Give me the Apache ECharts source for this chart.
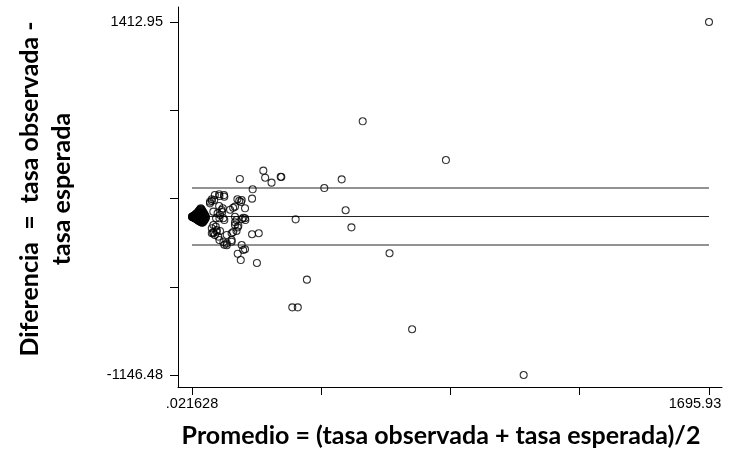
<!DOCTYPE html>
<html>
<head>
<meta charset="utf-8">
<script src="https://cdn.jsdelivr.net/npm/echarts@6/dist/echarts.min.js"></script>
<style>html,body{margin:0;padding:0;background:#fff;}#c{width:744px;height:453px;}</style>
</head>
<body>
<div id="c"></div>
<script>
// Mean of the two rates (x) and their difference (y)
const meanRate = [
  1695.93, 560, 833, 293, 491, 434, 504, 340, 523, 648, 377, 329, 347, 722, 1088,
  157, 234, 240, 261, 291, 199, 197,
  106, 89, 75, 65, 59, 90, 105, 73, 65, 59,
  149, 155, 161, 163, 174, 141, 125, 135, 99, 97, 101, 89,
  84, 92, 70, 79, 90, 103, 106, 168, 164, 175, 141, 146, 174,
  150, 141, 152, 141, 146, 197, 219, 135, 114, 130,
  81, 70, 65, 70, 78, 65, 92, 81, 75, 86, 70,
  90, 106, 114, 103, 114, 130, 130, 163, 174, 168, 150, 160, 213,
  0.02, 0.5, 1.2, 2, 2.8, 3.5, 4.5, 5.2, 6, 7, 8, 9, 10, 11, 12, 13, 14, 15, 16, 17, 18, 19, 20,
  21, 22, 23, 24, 25, 26, 27, 28, 29, 30, 31, 32, 33, 34, 35, 36, 37, 38, 39, 40, 41, 42, 43, 44, 45, 46,
  6, 10, 14, 18, 22, 26, 30, 34, 38, 20, 25, 30, 35, 15, 12, 8, 4, 28, 32, 24, 16
];
const diffRate = [
  1412.95, 693, 412, 289, 272, 209, 48, -18, -76, -264, -455, -656, -656, -815, -1146.48,
  275, 335, 284, 248, 291, 200, 132,
  146, 164, 159, 128, 110, 151, 158, 122, 115, 98,
  128, 117, 108, 122, 62, 74, 52, 66, 35, 50, 62, 79,
  26, 14, 38, -10, -10, -10, -23, -6, -16, -23, 1, -23, -10,
  -76, -39, -64, -59, -102, -126, -119, -110, -131, -119,
  -95, -112, -119, -59, -71, -82, -102, -107, -131, -143, -119,
  -168, -202, -206, -184, -192, -180, -168, -204, -235, -240, -267, -313, -334,
  0, 0.8, -1, 2.5, -2, 4, -3.5, 7, -6, 9, -8, 12, -10, 16, -13, 20, -15, 24, -18, 28, -22, 33, -25,
  38, -28, 44, -31, 50, -34, 56, -36, 62, -38, 55, -40, 48, -42, 40, -38, 33, -33, 26, -27, 18, -20, 10, -12, 3, -5,
  2, 4, -3, 8, 5, 12, 2, 15, -6, 20, -12, 30, -20, 10, -5, 3, -1, -18, 22, 28, -8
];
// Mean difference and limits of agreement
const meanDiff = 3;
const upperLimit = 209;
const lowerLimit = -204;
const lineStart = 0.021628;
const lineEnd = 1695.93;

// Axis ticks and labels
const xTickValues = [0.021628, 423.998, 847.975, 1271.953, 1695.93];
const xTickLabels = ['.021628', '', '', '', '1695.93'];
const yTickValues = [-1146.48, -506.6375, 133.235, 773.1075, 1412.95];
const yTickLabels = ['-1146.48', '', '', '', '1412.95'];

const xLabelValues = xTickValues.filter((v, i) => xTickLabels[i] !== '');
const yLabelValues = yTickValues.filter((v, i) => yTickLabels[i] !== '');

function lookup(vals, labels, v) {
  let best = 0;
  for (let i = 1; i < vals.length; i++) if (Math.abs(vals[i] - v) < Math.abs(vals[best] - v)) best = i;
  return labels[best];
}

const points = meanRate.map((x, i) => [x, diffRate[i]]);
const hline = (y) => ({
  type: 'line',
  data: [[lineStart, y], [lineEnd, y]],
  symbol: 'none',
  silent: true,
  lineStyle: { color: '#262626', width: 1.1 },
  z: 1
});

const tickFont = 'Liberation Sans, Arial, sans-serif';
const chart = echarts.init(document.getElementById('c'), null, { renderer: 'canvas' });
chart.setOption({
  animation: false,
  backgroundColor: '#ffffff',
  grid: { left: 178, right: 22, top: 7, bottom: 66, containLabel: false, outerBoundsMode: 'none' },
  xAxis: {
    type: 'value',
    min: -45.9,
    max: 1738.6,
    splitLine: { show: false },
    axisLine: { show: true, onZero: false, lineStyle: { color: '#000', width: 1 } },
    axisTick: { show: true, length: 8, customValues: xTickValues, lineStyle: { color: '#000' } },
    axisLabel: {
      customValues: xLabelValues,
      margin: 9,
      color: '#000',
      fontFamily: tickFont,
      fontSize: 14.5,
      formatter: (v) => {
        const t = lookup(xTickValues, xTickLabels, v);
        return v > 1000 ? '{mx|' + t + '}' : t;
      },
      rich: { mx: { padding: [0, 28, 0, 0], fontSize: 14.5, fontFamily: tickFont, color: '#000' } }
    },
    name: 'Promedio = (tasa observada + tasa esperada)/2',
    nameLocation: 'middle',
    nameGap: 36,
    nameTextStyle: { fontFamily: 'Lato', fontWeight: 'bold', fontSize: 25, color: '#000', padding: [0, 18, 0, 0] }
  },
  yAxis: {
    type: 'value',
    min: -1233.5,
    max: 1521.7,
    splitLine: { show: false },
    axisLine: { show: true, onZero: false, lineStyle: { color: '#000', width: 1 } },
    axisTick: { show: true, length: 8, customValues: yTickValues, lineStyle: { color: '#000' } },
    axisLabel: {
      customValues: yLabelValues,
      margin: 15,
      color: '#000',
      fontFamily: tickFont,
      fontSize: 14.5,
      formatter: (v) => lookup(yTickValues, yTickLabels, v)
    },
    name: 'Diferencia  =  tasa observada -\ntasa esperada',
    nameLocation: 'middle',
    nameGap: 100,
    nameTextStyle: { fontFamily: 'Lato', fontWeight: 'bold', fontSize: 25, lineHeight: 32, color: '#000', padding: [0, 0, 0, 16] }
  },
  series: [
    hline(upperLimit),
    hline(meanDiff),
    hline(lowerLimit),
    {
      type: 'scatter',
      data: points,
      symbol: 'circle',
      symbolSize: 7,
      itemStyle: { color: 'rgba(255,255,255,0)', borderColor: '#000', borderWidth: 1.1 },
      z: 2
    }
  ]
});
</script>
</body>
</html>
